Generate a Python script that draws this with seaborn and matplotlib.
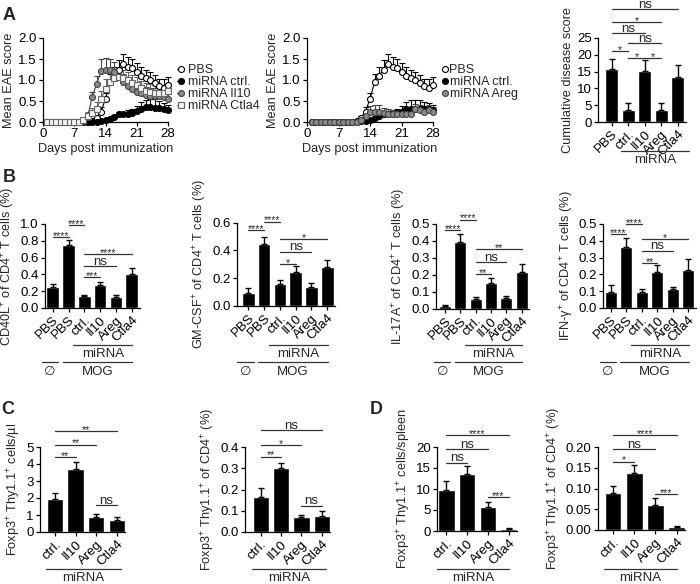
import numpy as np
import matplotlib
matplotlib.use("Agg")
import matplotlib.pyplot as plt
import seaborn as sns
from matplotlib.ticker import FormatStrFormatter
from matplotlib.transforms import blended_transform_factory

# ---- data ----
days = list(range(1, 29))

# panel A, left and middle: mean EAE score
pbs = [0] * 10 + [0.02, 0.1, 0.25, 0.55, 0.95, 1.1, 1.25, 1.38, 1.3, 1.28, 1.2, 1.1, 1.05, 1.0, 0.93, 0.85, 0.82, 0.88]
pbs_err = [0] * 10 + [0.02, 0.05, 0.1, 0.15, 0.2, 0.2, 0.22, 0.24, 0.24, 0.22, 0.2, 0.2, 0.2, 0.2, 0.2, 0.18, 0.2, 0.2]
ctrl = [0] * 12 + [0.02, 0.05, 0.08, 0.12, 0.18, 0.18, 0.2, 0.22, 0.26, 0.32, 0.35, 0.35, 0.34, 0.33, 0.3, 0.28]
ctrl_err = [0] * 12 + [0.02, 0.02, 0.03, 0.04, 0.05, 0.06, 0.08, 0.1, 0.12, 0.15, 0.18, 0.2, 0.2, 0.18, 0.15, 0.12]
il10 = [0] * 8 + [0.02, 0.12, 0.6, 0.9, 1.22, 1.25, 1.25, 1.2, 1.08, 0.95, 0.85, 0.78, 0.72, 0.68, 0.65, 0.63, 0.62, 0.62, 0.6, 0.55]
il10_err = [0] * 8 + [0.02, 0.08, 0.12, 0.2, 0.28, 0.28, 0.25, 0.22, 0.2, 0.2, 0.2, 0.18, 0.18, 0.18, 0.18, 0.18, 0.2, 0.2, 0.22, 0.2]
ctla4 = [0] * 8 + [0.05, 0.15, 0.22, 0.32, 0.55, 0.78, 0.95, 1.05, 1.08, 1.05, 1.0, 0.92, 0.88, 0.8, 0.75, 0.72, 0.7, 0.68, 0.7, 0.75]
ctla4_err = [0] * 8 + [0.05, 0.1, 0.12, 0.15, 0.2, 0.25, 0.25, 0.22, 0.2, 0.2, 0.2, 0.2, 0.2, 0.18, 0.18, 0.18, 0.18, 0.18, 0.18, 0.18]
ctrl2 = [0] * 11 + [0.02, 0.02, 0.05, 0.1, 0.15, 0.18, 0.18, 0.2, 0.22, 0.25, 0.3, 0.32, 0.32, 0.32, 0.3, 0.3, 0.28]
ctrl2_err = [0] * 11 + [0.02, 0.03, 0.04, 0.05, 0.06, 0.06, 0.08, 0.08, 0.1, 0.12, 0.18, 0.2, 0.2, 0.2, 0.18, 0.15, 0.12]
areg = [0] * 11 + [0.05, 0.15, 0.25, 0.25, 0.25, 0.22, 0.2, 0.18, 0.18, 0.18, 0.18, 0.18, 0.3, 0.28, 0.25, 0.28, 0.25]
areg_err = [0] * 11 + [0.05, 0.1, 0.12, 0.15, 0.15, 0.12, 0.12, 0.1, 0.1, 0.1, 0.1, 0.1, 0.12, 0.12, 0.12, 0.12, 0.1]

# panel A, right: cumulative disease score
cum_labels = ["PBS", "ctrl.", "Il10", "Areg", "Ctla4"]
cum_mean = [15.7, 3.7, 15.2, 3.7, 13.5]
cum_err = [3.1, 2.0, 3.3, 2.0, 3.4]

# panel B
b_labels = ["PBS", "PBS", "ctrl.", "Il10", "Areg", "Ctla4"]
cd40l = [0.25, 0.75, 0.14, 0.27, 0.135, 0.41]
cd40l_err = [0.04, 0.06, 0.015, 0.04, 0.025, 0.07]
gmcsf = [0.096, 0.45, 0.158, 0.247, 0.139, 0.278]
gmcsf_err = [0.031, 0.044, 0.029, 0.041, 0.029, 0.053]
il17 = [0.015, 0.396, 0.055, 0.15, 0.061, 0.215]
il17_err = [0.005, 0.044, 0.016, 0.033, 0.014, 0.048]
ifng = [0.093, 0.365, 0.097, 0.216, 0.113, 0.226]
ifng_err = [0.044, 0.05, 0.014, 0.04, 0.014, 0.064]

# panels C and D
cd_labels = ["ctrl.", "Il10", "Areg", "Ctla4"]
blood_count = [1.92, 3.72, 0.89, 0.69]
blood_count_err = [0.35, 0.41, 0.16, 0.2]
blood_pct = [0.164, 0.303, 0.072, 0.076]
blood_pct_err = [0.043, 0.024, 0.009, 0.024]
spleen_count = [9.8, 13.5, 5.6, 0.5]
spleen_count_err = [2.0, 1.9, 1.4, 0.15]
spleen_pct = [0.0895, 0.137, 0.061, 0.0065]
spleen_pct_err = [0.016, 0.02, 0.015, 0.003]

# ---- style ----
FS = 9.5
sns.set_theme(style="ticks")
plt.rcParams["font.family"] = ["Liberation Sans", "DejaVu Sans"]
plt.rcParams.update({
    "font.size": FS, "axes.labelsize": 9.2, "xtick.labelsize": FS, "ytick.labelsize": FS,
    "axes.linewidth": 0.9, "xtick.major.width": 0.9, "ytick.major.width": 0.9,
    "xtick.major.size": 3, "ytick.major.size": 3, "xtick.major.pad": 1.5, "ytick.major.pad": 1.5,
    "axes.edgecolor": "black", "xtick.color": "black", "ytick.color": "black",
    "axes.labelpad": 2,
    "mathtext.fontset": "custom", "mathtext.rm": "Liberation Sans",
    "mathtext.it": "Liberation Sans:italic", "mathtext.bf": "Liberation Sans:bold",
    "mathtext.default": "regular",
})

W, H = 700, 584
fig = plt.figure(figsize=(7, 5.84), dpi=100)
LINE = "#333333"


def px_axes(l, t, r, b):
    return fig.add_axes([l / W, 1 - b / H, (r - l) / W, (b - t) / H])


def group(ax, x0, x1, ypx, text, typx):
    tr = blended_transform_factory(ax.transData, fig.transFigure)
    ax.plot([x0, x1], [1 - ypx / H] * 2, transform=tr, color=LINE, lw=0.9, clip_on=False)
    ax.text((x0 + x1) / 2, 1 - typx / H, text, transform=tr, ha="center", va="center", fontsize=FS)


def bar_panel(ax, labels, means, errs, ymax, yticks, fmt, ylabel, sig, xlim):
    n = len(means)
    sns.barplot(x=list(range(n)), y=means, color="black", saturation=1, width=0.8, ax=ax)
    ax.errorbar(np.arange(n), means, yerr=[np.zeros(n), errs], fmt="none",
                ecolor="black", elinewidth=1, capsize=2.5, capthick=1)
    ax.set_ylim(0, ymax)
    ax.set_yticks(yticks)
    ax.yaxis.set_major_formatter(FormatStrFormatter(fmt))
    ax.set_xlim(*xlim)
    ax.set_xticks(range(n))
    ax.set_xticklabels(labels, rotation=45, ha="right", rotation_mode="anchor")
    ax.set_ylabel(ylabel)
    ax.set_xlabel("")
    sns.despine(ax=ax)
    for i, j, y, txt in sig:
        ax.plot([i, j], [y, y], color=LINE, lw=0.9, clip_on=False)
        star = "*" in txt
        ax.annotate(txt, ((i + j) / 2, y), xytext=(0, -1.3 if star else 1.0), textcoords="offset points",
                    ha="center", va="baseline", fontsize=7.5 if star else FS, annotation_clip=False)


def line_panel(ax, series):
    for vals, errs, face, edge, marker, name in series:
        v = np.array(vals)
        e = np.array(errs)
        m = e > 0
        ax.errorbar(np.array(days)[m], v[m], yerr=[np.zeros(m.sum()), e[m]], fmt="none",
                    ecolor=edge, elinewidth=0.8, capsize=2, capthick=0.8, clip_on=False)
        sns.lineplot(x=days, y=vals, ax=ax, color=edge, lw=0.8, marker=marker, markersize=4.3,
                     markerfacecolor=face, markeredgecolor=edge, markeredgewidth=0.8,
                     label=name, clip_on=False, zorder=3)
    ax.set_xlim(0, 28)
    ax.set_ylim(0, 2)
    ax.set_xticks([0, 7, 14, 21, 28])
    ax.set_yticks([0, 0.5, 1.0, 1.5, 2.0])
    ax.yaxis.set_major_formatter(FormatStrFormatter("%.1f"))
    ax.set_xlabel("Days post immunization")
    ax.set_ylabel("Mean EAE score")
    sns.despine(ax=ax)


# ---- panel A ----
ax = px_axes(43, 38, 168, 122)
line_panel(ax, [
    (pbs, pbs_err, "white", "black", "o", "PBS"),
    (ctrl, ctrl_err, "black", "black", "o", "miRNA ctrl."),
    (il10, il10_err, "#8a8a8a", "#444444", "o", "miRNA Il10"),
    (ctla4, ctla4_err, "#f2f2f2", "#666666", "s", "miRNA Ctla4"),
])
ax.legend(loc="center left", bbox_to_anchor=(177 / W, 1 - 88 / H), bbox_transform=fig.transFigure,
          frameon=False, fontsize=9, handlelength=0.6, handletextpad=0.3, labelspacing=0.0,
          borderpad=0, borderaxespad=0)

ax = px_axes(307, 38, 433, 122)
line_panel(ax, [
    (pbs, pbs_err, "white", "black", "o", "PBS"),
    (ctrl2, ctrl2_err, "black", "black", "o", "miRNA ctrl."),
    (areg, areg_err, "#8a8a8a", "#444444", "o", "miRNA Areg"),
])
ax.legend(loc="center left", bbox_to_anchor=(442 / W, 1 - 82 / H), bbox_transform=fig.transFigure,
          frameon=False, fontsize=9, handlelength=0.5, handletextpad=0.1, labelspacing=0.0,
          borderpad=0, borderaxespad=0)

ax = px_axes(598, 38, 686, 122)
bar_panel(ax, cum_labels, cum_mean, cum_err, 25, [0, 5, 10, 15, 20, 25], "%d",
          "Cumulative disease score",
          [(0, 4, 33.5, "ns"), (0, 3, 29.7, "*"), (0, 2, 26.5, "ns"), (1, 3, 23.5, "ns"),
           (0, 1, 21.0, "*"), (1, 2, 19.0, "*"), (2, 3, 19.0, "*")], (-0.83, 4.5))
group(ax, 0.55, 4.7, 151, "miRNA", 160)

# ---- panel B ----
b_panels = [
    ((45, 224, 139.6, 308), cd40l, cd40l_err, 1.0, [0, 0.2, 0.4, 0.6, 0.8, 1.0],
     "CD40L$^{+}$ of CD4$^{+}$ T cells (%)",
     [(0, 1, 0.84, "****"), (1, 2, 0.99, "****"), (2, 5, 0.64, "****"), (2, 4, 0.50, "ns"), (2, 3, 0.365, "***")],
     -0.49),
    ((236.7, 222.7, 335.2, 306), gmcsf, gmcsf_err, 0.6, [0, 0.2, 0.4, 0.6],
     "GM-CSF$^{+}$ of CD4$^{+}$ T cells (%)",
     [(0, 1, 0.547, "****"), (1, 2, 0.607, "****"), (2, 5, 0.48, "*"), (2, 4, 0.39, "ns"), (2, 3, 0.30, "*")],
     -0.73),
    ((436, 224, 529.3, 308.7), il17, il17_err, 0.5, [0, 0.1, 0.2, 0.3, 0.4, 0.5],
     "IL-17A$^{+}$ of CD4$^{+}$ T cells (%)",
     [(0, 1, 0.465, "****"), (1, 2, 0.525, "****"), (2, 5, 0.35, "**"), (2, 4, 0.275, "ns"), (2, 3, 0.205, "**")],
     -0.59),
    ((603.3, 224, 696, 308), ifng, ifng_err, 0.5, [0, 0.1, 0.2, 0.3, 0.4, 0.5],
     "IFN-\u03b3$^{+}$ of CD4$^{+}$ T cells (%)",
     [(0, 1, 0.44, "****"), (1, 2, 0.50, "****"), (2, 5, 0.41, "*"), (2, 4, 0.34, "ns"), (2, 3, 0.266, "**")],
     -0.48),
]
for box, vals, errs, ymax, ticks, ylabel, sig, x0 in b_panels:
    ax = px_axes(*box)
    bar_panel(ax, b_labels, vals, errs, ymax, ticks, "%.1f", ylabel, sig, (x0, 5.5))
    group(ax, 1.3, 5.05, 345, "miRNA", 354)
    group(ax, -0.7, 0.35, 362, "\u2205", 372)
    group(ax, 0.62, 5.05, 362, "MOG", 372)

# ---- panel C ----
ax = px_axes(40, 447, 125, 532)
bar_panel(ax, cd_labels, blood_count, blood_count_err, 5, [0, 1, 2, 3, 4, 5], "%d",
          "Foxp3$^{+}$ Thy1.1$^{+}$ cells/\u00b5l",
          [(0, 1, 4.41, "**"), (0, 2, 5.14, "**"), (0, 3, 5.93, "**"), (2, 3, 1.58, "ns")], (-0.73, 3.4))
group(ax, -0.45, 3.2, 569, "miRNA", 578)

ax = px_axes(245, 447, 330, 532)
bar_panel(ax, cd_labels, blood_pct, blood_pct_err, 0.4, [0, 0.1, 0.2, 0.3, 0.4], "%.1f",
          "Foxp3$^{+}$ Thy1.1$^{+}$ of CD4$^{+}$ (%)",
          [(0, 1, 0.355, "**"), (0, 2, 0.41, "*"), (0, 3, 0.48, "ns"), (2, 3, 0.124, "ns")], (-0.77, 3.4))
group(ax, -0.45, 3.2, 569, "miRNA", 578)

# ---- panel D ----
ax = px_axes(437, 447, 517, 531)
bar_panel(ax, cd_labels, spleen_count, spleen_count_err, 20, [0, 5, 10, 15, 20], "%d",
          "Foxp3$^{+}$ Thy1.1$^{+}$ cells/spleen",
          [(0, 1, 16.3, "ns"), (0, 2, 19.5, "ns"), (0, 3, 22.9, "****"), (2, 3, 8.1, "***")], (-0.45, 3.4))
group(ax, -0.45, 3.0, 569, "miRNA", 578)

ax = px_axes(598, 447, 685, 530)
bar_panel(ax, cd_labels, spleen_pct, spleen_pct_err, 0.2, [0, 0.05, 0.1, 0.15, 0.2], "%.2f",
          "Foxp3$^{+}$ Thy1.1$^{+}$ of CD4$^{+}$ (%)",
          [(0, 1, 0.165, "*"), (0, 2, 0.194, "ns"), (0, 3, 0.228, "****"), (2, 3, 0.087, "***")], (-0.71, 3.4))
group(ax, -0.45, 3.0, 569, "miRNA", 578)

# panel letters
for letter, x, y in [("A", 9, 15), ("B", 9, 178), ("C", 8, 410), ("D", 376, 409)]:
    fig.text(x / W, 1 - y / H, letter, fontsize=13, fontweight="bold", ha="center", va="center")

fig.savefig("out.png", dpi=100)
